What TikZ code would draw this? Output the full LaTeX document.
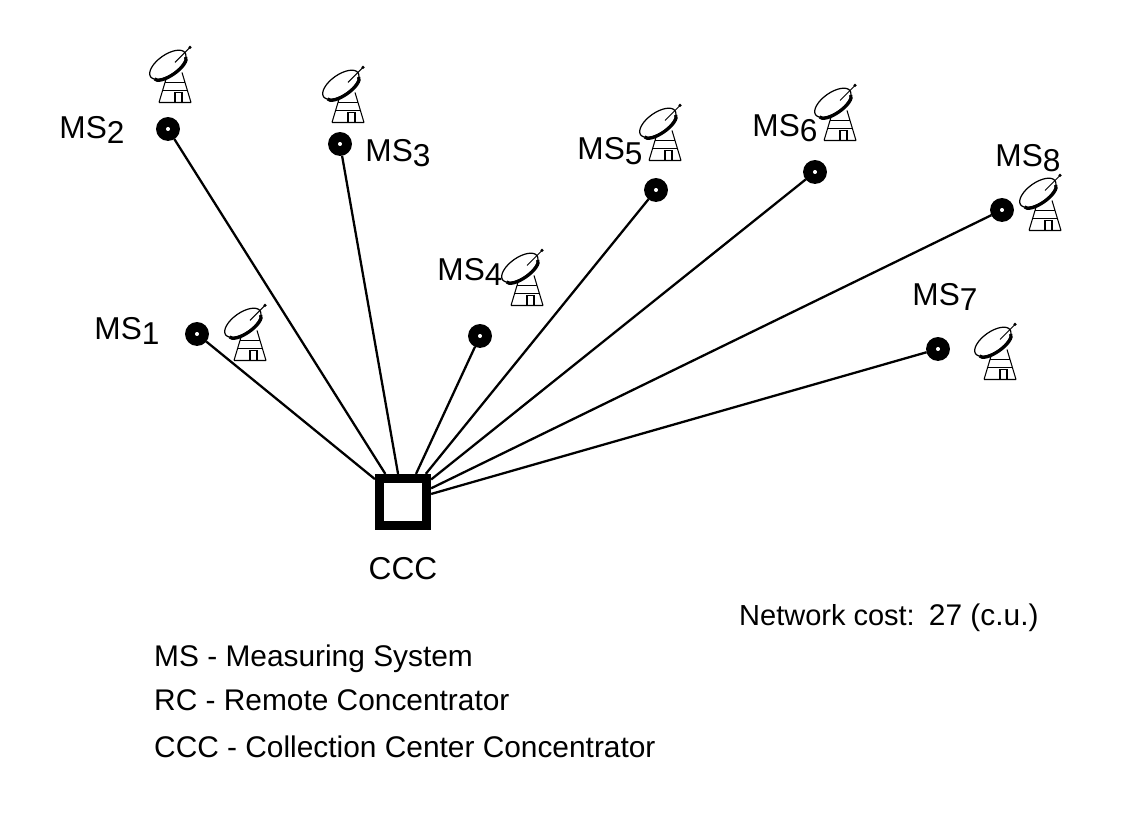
\documentclass[tikz,border=0pt]{standalone}
\usepackage{fontspec}
\setmainfont{Liberation Sans}
\usetikzlibrary{positioning}

\tikzset{
    station/.style  = {circle, draw=black, line width=5.5pt, fill=white, inner sep=0pt, minimum size=8pt},
    centru/.style   = {rectangle, draw=black, line width=5pt, fill=white, inner sep=0pt, minimum size=27pt},
    eticheta/.style = {font=\fontsize{18}{21}\selectfont},
    legenda/.style  = {font=\fontsize{17}{20}\selectfont, anchor=west},
    legatura/.style = {line width=1.3pt},
    antena/.pic = {
      \begin{scope}[xscale=50, yscale=-50]
        % turnul
        \draw[line width=0.6pt] (-0.32,-0.55) -- (-0.14,0.05) (0.32,-0.55) -- (0.14,0.05)
              (-0.32,-0.55) -- (0.32,-0.55);
        \draw[line width=0.5pt] (-0.2,-0.15) -- (0.2,-0.15) (-0.24,-0.3) -- (0.24,-0.3);
        \draw[line width=0.6pt] (0.0,-0.55) rectangle (0.14,-0.35);
        % discul
        \draw[line width=0.7pt, fill=white, rotate=-35] (0,0.25) ellipse (0.42 and 0.2);
        \draw[line width=1.8pt, rotate=-35] (-0.38,0.17) arc (180:360:0.38 and 0.14);
        \draw[line width=0.6pt] (0.0,0.25) -- (0.3,0.55);
        \fill (0.3,0.55) circle (0.035);
      \end{scope}
    }
}

\begin{document}
\begin{tikzpicture}[x=0.02cm, y=-0.02cm]
    \useasboundingbox (0,0) rectangle (1134,830);

    % statiile de masura
    \node[station] (ms1) at (197,334) {};
    \node[station] (ms2) at (168,129) {};
    \node[station] (ms3) at (340,144) {};
    \node[station] (ms4) at (480,336) {};
    \node[station] (ms5) at (656,190) {};
    \node[station] (ms6) at (815,172) {};
    \node[station] (ms7) at (938,349) {};
    \node[station] (ms8) at (1002,210) {};
    \node[centru] (ccc) at (403,502) {};

    \node[eticheta] (l1) at (127,331) {MS\raisebox{-3pt}{1}};
    \node[eticheta] (l2) at (92,130) {MS\raisebox{-3pt}{2}};
    \node[eticheta] (l3) at (398,153) {MS\raisebox{-3pt}{3}};
    \node[eticheta] (l4) at (470,272) {MS\raisebox{-3pt}{4}};
    \node[eticheta] (l5) at (610,151) {MS\raisebox{-3pt}{5}};
    \node[eticheta] (l6) at (785,128) {MS\raisebox{-3pt}{6}};
    \node[eticheta] (l7) at (945,297) {MS\raisebox{-3pt}{7}};
    \node[eticheta] (l8) at (1028,158) {MS\raisebox{-3pt}{8}};
    \node[eticheta, below=12pt of ccc] (lccc) {CCC};

    % antenele
    \foreach \ax/\ay in {175/75, 348/95, 250/333, 527/278, 665/133, 840/113, 1045/203, 1000/352}
        \pic at (\ax,\ay) {antena};

    % legaturile
    \foreach \s in {1,...,8}
        \draw[legatura] (ms\s) -- (ccc);

    % legenda
    \node[legenda, anchor=base west, font=\fontsize{16.5}{20}\selectfont] (cost) at (733,626) {Network cost:};
    \node[legenda, anchor=base west] (val) at ([xshift=1pt]cost.base east) {27 (c.u.)};
    \node[legenda] (lg1) at (148,659) {MS - Measuring System};
    \node[legenda] (lg2) at (148,700) {RC - Remote Concentrator};
    \node[legenda] (lg3) at (148,747) {CCC - Collection Center Concentrator};
\end{tikzpicture}
\end{document}
